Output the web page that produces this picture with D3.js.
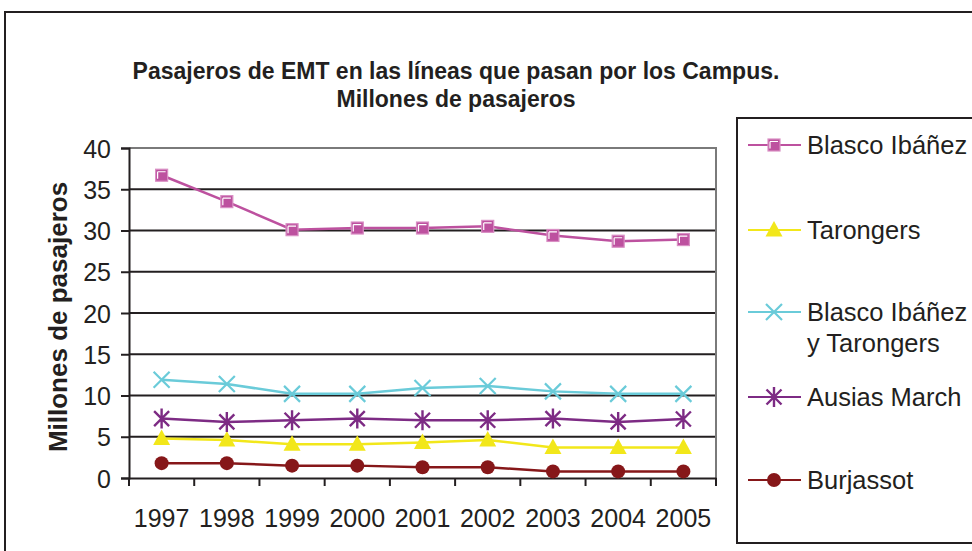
<!DOCTYPE html>
<html>
<head>
<meta charset="utf-8">
<script src="https://cdn.jsdelivr.net/npm/d3@7"></script>
<style>
  body { margin: 0; background: #fff; }
  svg text { font-family: "Liberation Sans", Arial, sans-serif; fill: #231f20; }
</style>
</head>
<body>
<div id="vis"></div>
<script>
var width = 972,
    height = 551;

// data
var years = ["1997", "1998", "1999", "2000", "2001", "2002", "2003", "2004", "2005"];
var blascoIbanez    = [36.7, 33.5, 30.1, 30.3, 30.3, 30.5, 29.4, 28.7, 28.9];
var tarongers       = [4.8, 4.6, 4.1, 4.1, 4.3, 4.6, 3.7, 3.7, 3.7];
var blascoTarongers = [11.9, 11.4, 10.2, 10.2, 10.9, 11.15, 10.5, 10.2, 10.2];
var ausiasMarch     = [7.2, 6.8, 7.0, 7.2, 7.0, 7.0, 7.2, 6.8, 7.15];
var burjassot       = [1.8, 1.8, 1.5, 1.5, 1.3, 1.3, 0.8, 0.8, 0.8];
var yTicks = [0, 5, 10, 15, 20, 25, 30, 35, 40];

var series = [
  { name: ["Blasco Ibáñez"], values: blascoIbanez, color: "#bd519f", marker: "square" },
  { name: ["Tarongers"], values: tarongers, color: "#f2e71a", marker: "triangle" },
  { name: ["Blasco Ibáñez", "y Tarongers"], values: blascoTarongers, color: "#6acbd9", marker: "cross" },
  { name: ["Ausias March"], values: ausiasMarch, color: "#7d2b84", marker: "star" },
  { name: ["Burjassot"], values: burjassot, color: "#861719", marker: "circle" }
];

var svg = d3.select("#vis").append("svg")
    .attr("width", width)
    .attr("height", height);

// outer frame
svg.append("rect")
    .attr("x", 5).attr("y", 12)
    .attr("width", 990).attr("height", 560)
    .attr("fill", "#fff")
    .attr("stroke", "#231f20")
    .attr("stroke-width", 2);

var plot = { left: 129, right: 716, top: 148, bottom: 478 };

var x = d3.scaleBand().domain(years).range([plot.left, plot.right]);
var y = d3.scaleLinear().domain([0, 40]).range([plot.bottom, plot.top]);

// title
var title = svg.append("text")
    .attr("text-anchor", "middle")
    .style("font-size", "23px")
    .style("font-weight", "bold");
title.append("tspan").attr("x", 456).attr("y", 79)
    .text("Pasajeros de EMT en las líneas que pasan por los Campus.");
title.append("tspan").attr("x", 456).attr("y", 107)
    .text("Millones de pasajeros");

// grid lines
svg.append("g")
  .selectAll("line")
  .data(yTicks.filter(function(d) { return d > 0 && d < 40; }))
  .enter().append("line")
    .attr("x1", plot.left).attr("x2", plot.right)
    .attr("y1", function(d) { return y(d); })
    .attr("y2", function(d) { return y(d); })
    .attr("stroke", "#231f20")
    .attr("stroke-width", 2);

// plot border top / right (grey)
svg.append("path")
    .attr("d", "M" + plot.left + "," + y(40) + "H" + plot.right + "V" + plot.bottom)
    .attr("fill", "none")
    .attr("stroke", "#7a7a7a")
    .attr("stroke-width", 2);

// y axis
var yAxis = svg.append("g")
    .attr("transform", "translate(" + plot.left + ",0)")
    .call(d3.axisLeft(y).tickValues(yTicks).tickSize(8).tickPadding(10));
yAxis.selectAll("text").style("font-size", "25px").attr("dy", "0.36em");

// x axis, ticks between categories
var xAxis = svg.append("g")
    .attr("transform", "translate(0," + plot.bottom + ")")
    .call(d3.axisBottom(x).tickSize(0).tickPadding(49));
xAxis.selectAll("text").style("font-size", "25px").attr("dy", "0");
xAxis.selectAll(".bound")
  .data(d3.range(years.length + 1))
  .enter().append("line")
    .attr("class", "bound")
    .attr("x1", function(i) { return plot.left + i * x.step(); })
    .attr("x2", function(i) { return plot.left + i * x.step(); })
    .attr("y1", 0).attr("y2", 8);

svg.selectAll(".domain, .tick line, .bound")
    .attr("stroke", "#231f20")
    .attr("stroke-width", 2);

// y axis title
svg.append("text")
    .attr("transform", "translate(67,317) rotate(-90)")
    .attr("text-anchor", "middle")
    .style("font-size", "26px")
    .style("font-weight", "bold")
    .text("Millones de pasajeros");

function drawMarker(g, type, color) {
  if (type === "square") {
    g.append("rect").attr("x", -6).attr("y", -6).attr("width", 12).attr("height", 12)
      .attr("fill", color).attr("stroke", "#d98fc4").attr("stroke-width", 1.2);
    g.append("path").attr("d", "M-4,-3.5H4M-4,-3.5V3.5")
      .attr("stroke", "#fff").attr("stroke-width", 1.2).attr("fill", "none");
  } else if (type === "triangle") {
    g.append("path").attr("d", "M0,-9L8.5,6.5L-8.5,6.5Z").attr("fill", color);
  } else if (type === "cross") {
    g.append("path").attr("d", "M-8,-8L8,8M-8,8L8,-8")
      .attr("stroke", color).attr("stroke-width", 2.2);
  } else if (type === "star") {
    g.append("path").attr("d", "M-7.5,-7.5L7.5,7.5M-7.5,7.5L7.5,-7.5M0,-10V10")
      .attr("stroke", color).attr("stroke-width", 2.4);
  } else {
    g.append("circle").attr("r", 7).attr("fill", color);
  }
}

var line = d3.line()
    .x(function(d, i) { return x(years[i]) + x.bandwidth() / 2; })
    .y(function(d) { return y(d); });

series.forEach(function(s) {
  svg.append("path")
      .attr("d", line(s.values))
      .attr("fill", "none")
      .attr("stroke", s.color)
      .attr("stroke-width", 2.5);
  s.values.forEach(function(v, i) {
    var g = svg.append("g")
        .attr("transform", "translate(" + (x(years[i]) + x.bandwidth() / 2) + "," + y(v) + ")");
    drawMarker(g, s.marker, s.color);
  });
});

// legend
svg.append("rect")
    .attr("x", 737).attr("y", 118)
    .attr("width", 260).attr("height", 425)
    .attr("fill", "#fff")
    .attr("stroke", "#231f20")
    .attr("stroke-width", 2);

var legendY = [145, 230, 312, 397, 480];
series.forEach(function(s, k) {
  var g = svg.append("g").attr("transform", "translate(0," + legendY[k] + ")");
  g.append("line").attr("x1", 748).attr("x2", 801).attr("y1", 0).attr("y2", 0)
      .attr("stroke", s.color).attr("stroke-width", 2);
  var mg = g.append("g").attr("transform", "translate(774,0)");
  drawMarker(mg, s.marker, s.color);
  s.name.forEach(function(t, j) {
    g.append("text")
        .attr("x", 807).attr("y", 9 + j * 31)
        .style("font-size", "25.5px")
        .text(t);
  });
});
</script>
</body>
</html>
